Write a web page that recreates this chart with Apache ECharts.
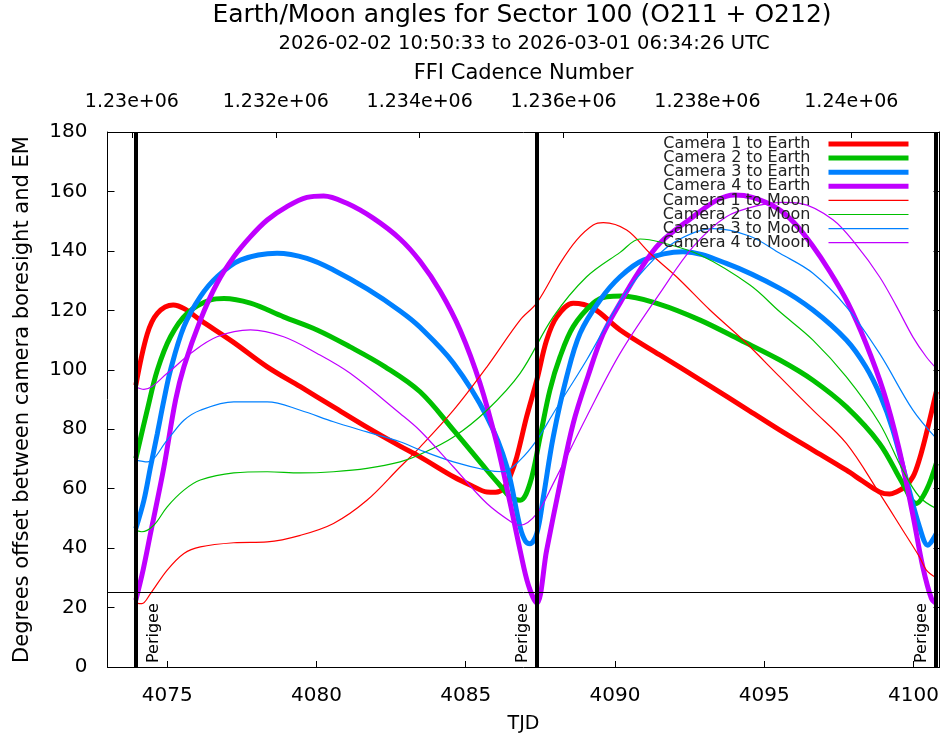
<!DOCTYPE html>
<html>
<head>
<meta charset="utf-8">
<script src="https://cdn.jsdelivr.net/npm/echarts@6/dist/echarts.min.js"></script>
<style>
html,body{margin:0;padding:0;background:#fff;}
#chart{width:942px;height:740px;}
</style>
</head>
<body>
<div id="chart"></div>
<script>
// ---- tick labels / categories ----
const tjdTicks = [4075, 4080, 4085, 4090, 4095, 4100];
const cadenceTicks = [1230000, 1232000, 1234000, 1236000, 1238000, 1240000];
const cadenceLabels = ['1.23e+06', '1.232e+06', '1.234e+06', '1.236e+06', '1.238e+06', '1.24e+06'];
const seriesNames = ['Camera 1 to Earth', 'Camera 2 to Earth', 'Camera 3 to Earth', 'Camera 4 to Earth',
                     'Camera 1 to Moon', 'Camera 2 to Moon', 'Camera 3 to Moon', 'Camera 4 to Moon'];
const perigeeTJD = [4073.94, 4087.38, 4100.76];
const perigeeText = 'Perigee';
const limitDeg = 25;

// ---- series values [TJD, degrees] ----
const cam1Earth = [[4073.95,94.8],[4074.33,112],[4074.67,119],[4075.2,121.8],[4075.6,120.4],[4076.11,116.7],[4077.2,109.4],[4078.35,101],[4079.46,94.3],[4080.57,87.5],[4081.7,80.6],[4082.8,74.3],[4083.47,70.7],[4084.59,64],[4085.2,61],[4085.71,58.9],[4086.0,58.8],[4086.26,60],[4086.5,64.5],[4086.71,70.7],[4087.04,84.2],[4087.38,96.5],[4087.71,110],[4088.05,117.8],[4088.6,122.4],[4089.27,120.7],[4090.17,113.4],[4091.5,105],[4093.0,95.7],[4094.5,86.2],[4095.52,79.7],[4096.63,73],[4097.75,66.2],[4098.3,62.5],[4098.86,58.9],[4099.2,58.2],[4099.42,58.9],[4099.7,60.5],[4099.98,64],[4100.2,70],[4100.43,78.6],[4100.76,92.6]];
const cam2Earth = [[4073.95,70.2],[4074.33,86.4],[4074.67,99.9],[4075.11,111.1],[4075.67,119],[4076.45,123.5],[4076.9,124],[4077.79,122.4],[4078.9,117.8],[4080.02,113.4],[4081.13,107.7],[4082.3,101],[4083.47,92.6],[4084.59,79.7],[4085.71,66.2],[4086.2,60.5],[4086.49,57.2],[4086.82,56.1],[4087.15,61.7],[4087.49,77.4],[4087.82,93.2],[4088.16,104.4],[4088.6,114.5],[4089.27,122.4],[4089.72,124.6],[4090.24,124.8],[4091.5,122],[4092.85,116.7],[4094.2,110],[4095.52,103.3],[4096.63,96.5],[4097.75,87.5],[4098.86,75.2],[4099.64,61.7],[4100.09,55],[4100.43,59.5],[4100.76,68.5]];
const cam3Earth = [[4073.95,46.6],[4074.22,56.1],[4074.44,67.3],[4074.67,78.6],[4074.89,89.8],[4075.11,99.9],[4075.56,114.5],[4076.11,124.6],[4076.67,131.3],[4077.45,136.9],[4078.68,139.2],[4079.68,137.5],[4080.57,133.6],[4081.7,127.2],[4082.8,119.8],[4083.47,114.3],[4084.59,102.2],[4085.71,84.2],[4086.38,67.3],[4086.82,47.1],[4087.0,42.3],[4087.15,41.5],[4087.38,44.9],[4087.6,57.2],[4087.93,77.4],[4088.38,97.6],[4088.83,112.3],[4089.5,123.5],[4090.17,131.3],[4090.95,136.9],[4092.28,139.7],[4093.73,135.8],[4095.52,127.4],[4096.63,120.1],[4097.75,110],[4098.4,101],[4098.9,91],[4099.3,80],[4099.76,63],[4100.2,47.1],[4100.48,41],[4100.76,44.9]];
const cam4Earth = [[4073.95,22.5],[4074.2,33],[4074.44,44.9],[4074.89,67.3],[4075.28,89.8],[4075.56,101],[4076.11,116.7],[4076.67,129.1],[4077.23,138],[4077.79,144.8],[4078.35,150.4],[4079.01,154.9],[4079.68,158],[4080.24,158.5],[4081.02,156],[4081.9,151],[4082.8,144],[4083.47,136.5],[4084.14,126.5],[4084.81,113.4],[4085.48,95.4],[4086.04,75.2],[4086.49,55],[4086.82,39.3],[4087.1,27.5],[4087.38,21.5],[4087.71,39.3],[4088.16,61.7],[4088.6,82],[4089.1,98],[4089.6,112],[4090.17,122.5],[4090.8,133],[4091.5,142.6],[4092.62,151.5],[4093.4,157],[4094.0,158.8],[4094.6,158],[4095.41,154.5],[4096.0,149.5],[4096.6,142],[4097.2,133],[4097.8,122.5],[4098.4,109],[4099.0,92.5],[4099.5,74],[4099.98,51],[4100.31,33.7],[4100.6,23],[4100.76,21.4]];
const cam1Moon = [[4073.95,21.5],[4074.15,21.3],[4074.44,24.7],[4075,32.6],[4075.56,38.2],[4076.11,40.4],[4077.23,41.8],[4078.35,42.1],[4079.46,44.3],[4080.57,48.3],[4081.69,56.1],[4082.8,67.3],[4083.47,74],[4084.59,86.4],[4085.71,101],[4086.82,116.7],[4087.38,122.5],[4088.16,135.8],[4088.72,143.7],[4089.27,148.7],[4089.61,149.5],[4090.39,147],[4091.17,139.2],[4092.06,131.3],[4093.18,120.1],[4094.29,110],[4095.52,97.6],[4096.63,86.4],[4097.75,75.2],[4098.86,58.4],[4099.64,46],[4100.2,37],[4100.43,32.6],[4100.76,30]];
const cam2Moon = [[4073.95,46],[4074.15,45.5],[4074.55,47.7],[4075,53.9],[4075.56,59.5],[4076.11,62.9],[4077.23,65.3],[4078.35,65.7],[4079.46,65.3],[4080.57,65.7],[4081.69,66.8],[4082.8,69],[4083.47,71.5],[4084.59,77.4],[4085.71,86.4],[4086.82,98.8],[4087.93,117.8],[4089.05,131.3],[4090.17,139.5],[4090.84,144],[4091.5,143],[4092.85,138.6],[4094.52,128.5],[4095.52,119.5],[4096.63,110],[4097.75,97.6],[4098.86,82],[4099.64,66.2],[4100.2,57.2],[4100.76,53.3]];
const cam3Moon = [[4073.95,69.6],[4074.33,69],[4075,76.3],[4075.56,83],[4076.11,86.4],[4077.23,89.2],[4078.35,89.2],[4079.46,86.4],[4080.57,82.5],[4081.69,79.1],[4082.8,75.8],[4083.47,73],[4084.59,69],[4085.71,66.2],[4086.26,65.7],[4086.82,69.6],[4087.38,76.3],[4087.93,85.3],[4089.05,103.3],[4090.17,123],[4091.0,134],[4092.0,143],[4093.3,147.5],[4094.5,145],[4095.52,139.2],[4096.63,132.5],[4097.75,121.2],[4098.86,105.5],[4099.98,86.4],[4100.76,76.9]];
const cam4Moon = [[4073.95,94.3],[4074.22,93.4],[4075,98.8],[4075.78,105.5],[4076.67,111.1],[4077.79,113.4],[4078.9,111.1],[4080.02,105.5],[4081.13,98.8],[4082.8,85.3],[4083.47,79.5],[4084.59,67.3],[4085.71,55],[4086.6,48.3],[4086.82,47.7],[4087.38,51.6],[4087.93,61.7],[4089.05,84.2],[4090.17,105.5],[4091.5,125.7],[4092.62,141.4],[4093.73,151.5],[4094.85,155.4],[4095.6,156.3],[4096.19,156],[4097.3,150.5],[4098.08,142],[4098.86,131.3],[4099.42,121.5],[4099.98,111],[4100.43,104.3],[4100.76,100.5]];

const seriesData = [cam1Earth, cam2Earth, cam3Earth, cam4Earth, cam1Moon, cam2Moon, cam3Moon, cam4Moon];
const colors = ['#ff0000', '#00c000', '#0080ff', '#c000ff'];

const FONT = 'DejaVu Sans';

const chart = echarts.init(document.getElementById('chart'), null, {renderer: 'canvas'});

const series = seriesData.map((d, i) => ({
  name: seriesNames[i],
  type: 'line',
  data: d,
  xAxisIndex: 0,
  yAxisIndex: 0,
  showSymbol: false,
  symbol: 'none',
  smooth: 0.35,
  clip: true,
  color: colors[i % 4],
  lineStyle: {color: colors[i % 4], width: i < 4 ? 5 : 1.2},
  z: 2,
  silent: true
}));

series.push({
  name: 'refs',
  type: 'line',
  data: [],
  xAxisIndex: 0,
  yAxisIndex: 0,
  silent: true,
  z: 5,
  markLine: {
    silent: true,
    symbol: ['none', 'none'],
    animation: false,
    label: {show: false},
    data: [
      ...perigeeTJD.map(t => ({xAxis: t, lineStyle: {color: '#000', width: 4, type: 'solid'}})),
      {yAxis: limitDeg, lineStyle: {color: '#000', width: 1, type: 'solid'}}
    ]
  }
});

const option = {
  animation: false,
  backgroundColor: '#fff',
  title: [
    {text: 'Earth/Moon angles for Sector 100 (O211 + O212)', left: 517, top: -2, textAlign: 'center',
     textStyle: {fontFamily: FONT, fontSize: 25, fontWeight: 'normal', color: '#000'}},
    {text: '2026-02-02 10:50:33 to 2026-03-01 06:34:26 UTC', left: 519, top: 29, textAlign: 'center',
     textStyle: {fontFamily: FONT, fontSize: 19.5, fontWeight: 'normal', color: '#000'}}
  ],
  grid: {left: 107.5, right: 2, top: 132, bottom: 73, containLabel: false},
  legend: {
    data: seriesNames.map((n, i) => ({name: n, lineStyle: {width: i < 4 ? 5 : 1.2}})),
    orient: 'vertical',
    align: 'right',
    right: 31,
    top: 136,
    padding: 0,
    itemGap: -1.9,
    itemWidth: 80,
    itemHeight: 14,
    selectedMode: false,
    itemStyle: {opacity: 0},
    textStyle: {fontFamily: FONT, fontSize: 16, color: '#222', lineHeight: 14, padding: [0, 13, 0, 0]}
  },
  xAxis: [
    {
      type: 'value', position: 'bottom', min: 4073.0, max: 4100.87,
      name: 'TJD', nameLocation: 'middle', nameGap: 48,
      nameTextStyle: {fontFamily: FONT, fontSize: 19, color: '#000'},
      axisLine: {show: true, onZero: false, lineStyle: {color: '#000', width: 1}},
      axisTick: {show: true, inside: true, length: 6, customValues: tjdTicks, lineStyle: {color: '#000'}},
      axisLabel: {show: true, customValues: tjdTicks, margin: 19, fontFamily: FONT, fontSize: 20, color: '#000',
                  formatter: v => String(v)},
      splitLine: {show: false}
    },
    {
      type: 'value', position: 'top', min: 1229661, max: 1241226,
      name: 'FFI Cadence Number', nameLocation: 'middle', nameGap: 48,
      nameTextStyle: {fontFamily: FONT, fontSize: 21, color: '#000'},
      axisLine: {show: true, onZero: false, lineStyle: {color: '#000', width: 1}},
      axisTick: {show: true, inside: true, length: 6, customValues: cadenceTicks, lineStyle: {color: '#000'}},
      axisLabel: {show: true, customValues: cadenceTicks, margin: 20, fontFamily: FONT, fontSize: 19, color: '#000',
                  formatter: v => cadenceLabels[cadenceTicks.indexOf(v)] || ''},
      splitLine: {show: false}
    }
  ],
  yAxis: [
    {
      type: 'value', position: 'left', min: 0, max: 180, interval: 20,
      name: 'Degrees offset between camera boresight and EM', nameLocation: 'middle', nameGap: 74.5,
      nameTextStyle: {fontFamily: FONT, fontSize: 21, color: '#000'},
      axisLine: {show: true, onZero: false, lineStyle: {color: '#000', width: 1}},
      axisTick: {show: true, inside: true, length: 7, lineStyle: {color: '#000'}},
      axisLabel: {show: true, margin: 20, fontFamily: FONT, fontSize: 20, color: '#000'},
      splitLine: {show: false}
    },
    {
      type: 'value', position: 'right', min: 0, max: 180, interval: 20,
      axisLine: {show: true, onZero: false, lineStyle: {color: '#000', width: 1}},
      axisTick: {show: true, inside: true, length: 6, lineStyle: {color: '#000'}},
      axisLabel: {show: false},
      splitLine: {show: false}
    }
  ],
  series: series
};

chart.setOption(option);

// Perigee labels, positioned through the axis scale
const graphics = perigeeTJD.map((t, i) => {
  const px = chart.convertToPixel({xAxisIndex: 0}, t);
  const py = chart.convertToPixel({yAxisIndex: 0}, 0);
  const dx = i === 0 ? 18 : -14;
  return {
    type: 'text', x: px + dx, y: py - 4, rotation: Math.PI / 2, z: 10, silent: true,
    style: {text: perigeeText, fontFamily: FONT, fontSize: 16, fill: '#000', align: 'left', verticalAlign: 'middle'}
  };
});
chart.setOption({graphic: graphics});
</script>
</body>
</html>
